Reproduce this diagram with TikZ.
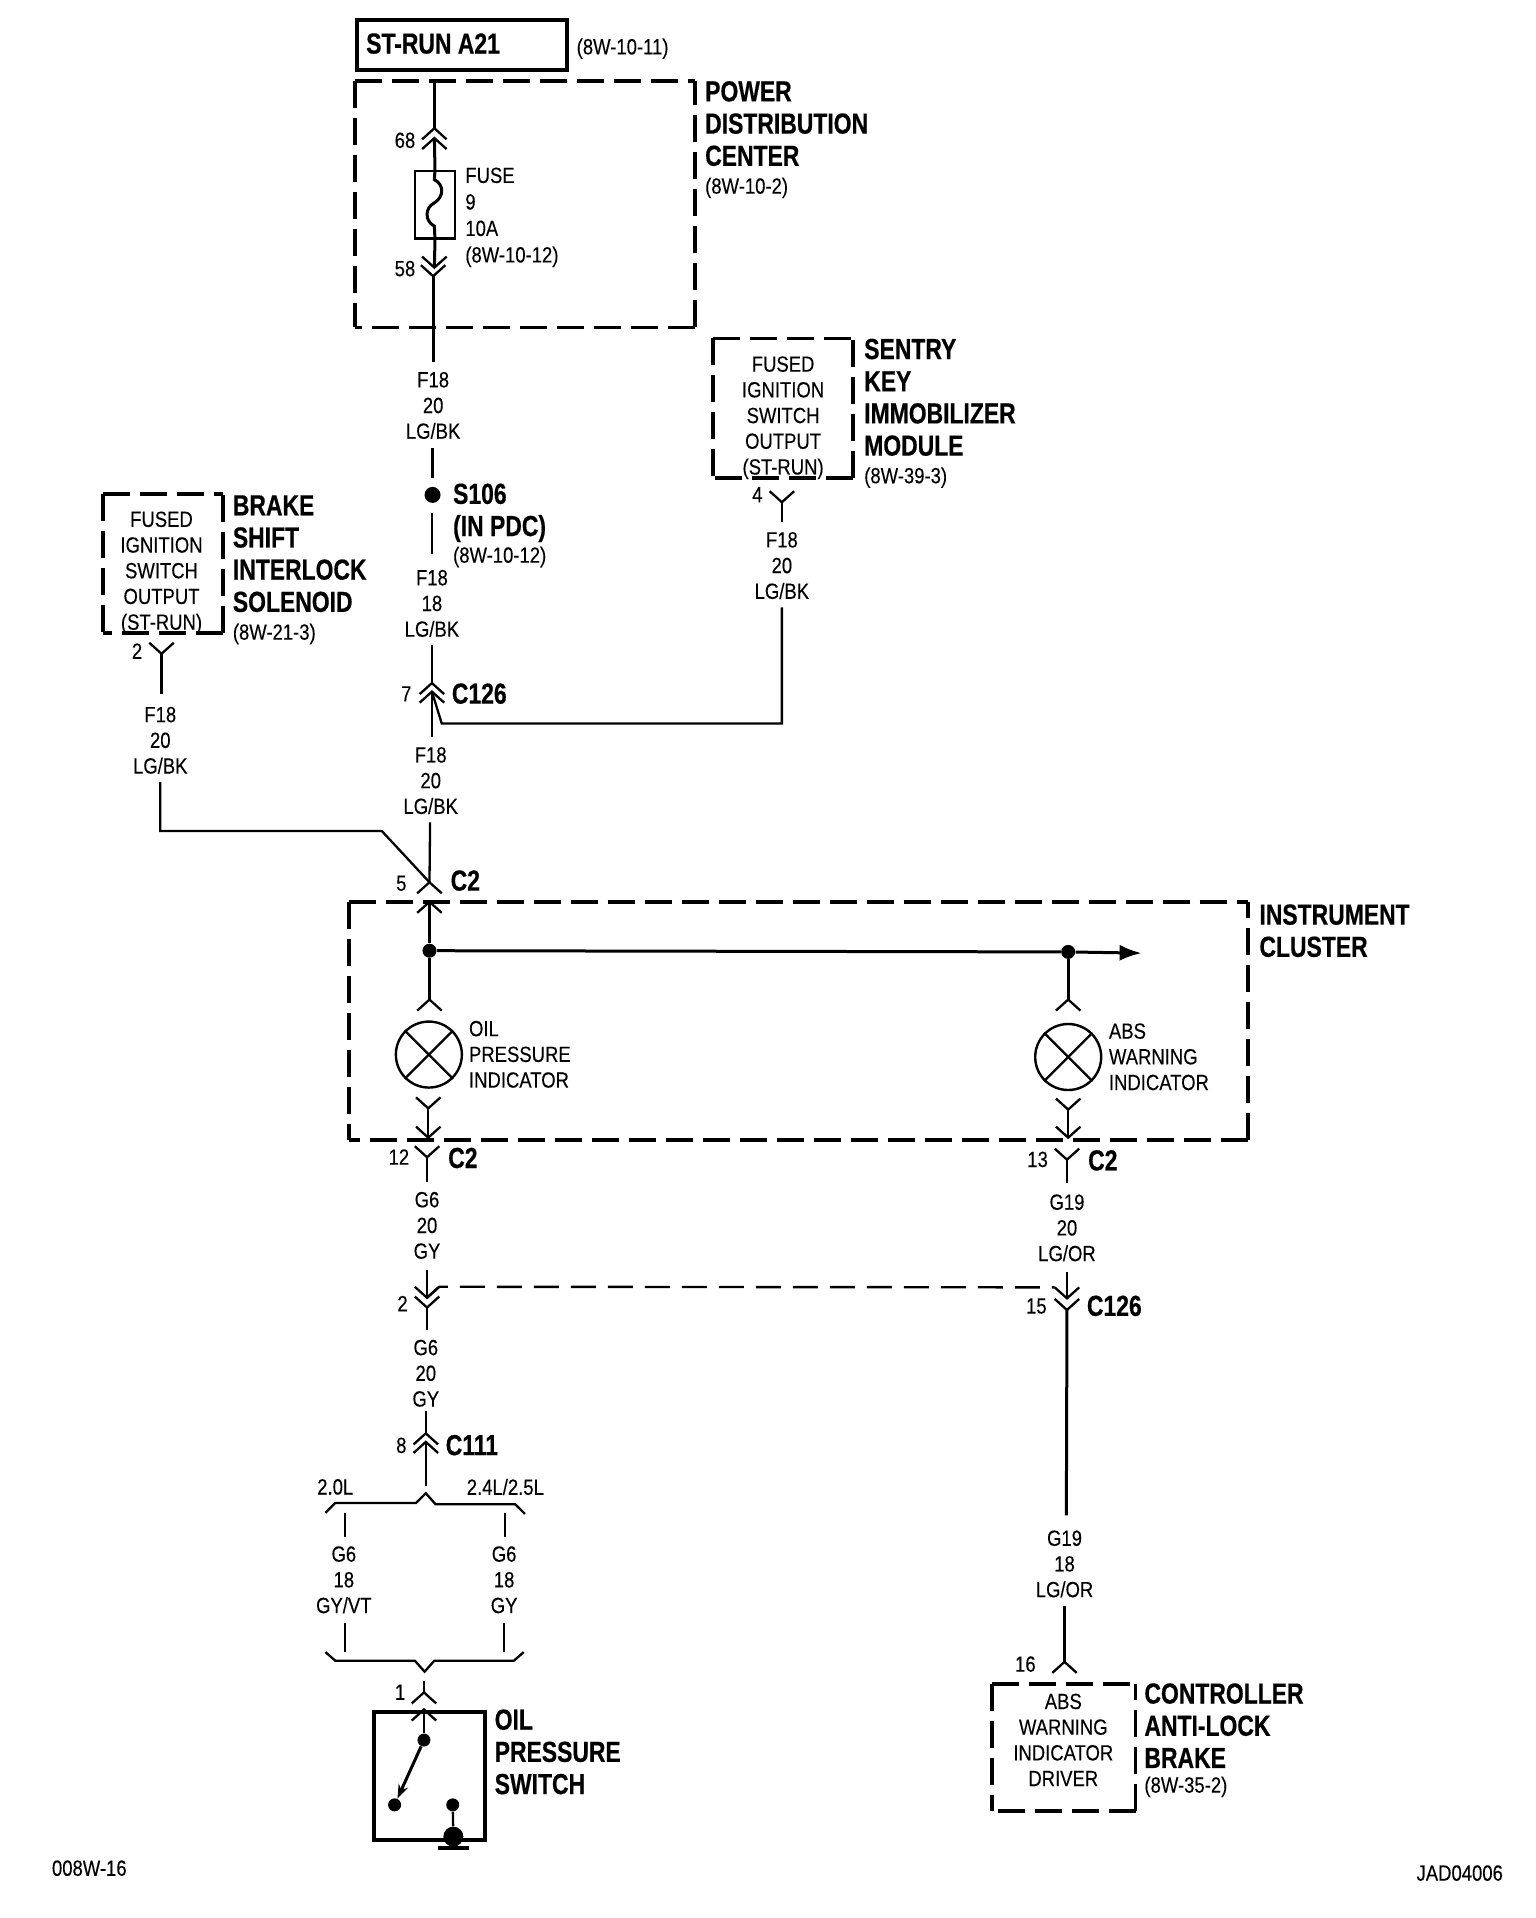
\documentclass[tikz,border=0pt]{standalone}
\usepackage{fontspec}
\setmainfont{Liberation Sans}[FakeStretch=0.84,FakeBold=0.2,BoldFeatures={FakeStretch=0.79,FakeBold=0.5}]
\usetikzlibrary{arrows.meta}
\tikzset{
  wire/.style={line width=1.15pt,line cap=butt},
  hwire/.style={line width=1.5pt},
  chev/.style={line width=1.15pt,line join=miter},
  dashbox/.style={line width=1.9pt,dash pattern=on 13.5pt off 5pt},
  dashwire/.style={line width=1.2pt,dash pattern=on 12.5pt off 6pt},
  sm/.style={inner sep=0pt,yshift=-0.5pt,font=\fontsize{11}{12.85}\selectfont},
  smc/.style={sm,align=center,anchor=center},
  sml/.style={sm,align=left,anchor=west},
  bd/.style={inner sep=0pt,yshift=-0.4pt,align=left,anchor=west,font=\fontsize{14.5}{16.1}\selectfont\bfseries},
  dotn/.style={circle,fill=black,inner sep=0pt,minimum size=#1},
  lampn/.style={circle,draw,line width=1.2pt,inner sep=0pt,minimum size=33pt},
  chevup/.pic={\draw[chev] (-10,9) -- (0,0) -- (10,9);},
  chevdn/.pic={\draw[chev] (-10,-9) -- (0,0) -- (10,-9);},
}
\newcommand{\dbox}[4]{%
  \draw[dashbox] (#1,#2) -- (#3,#2);
  \draw[dashbox] (#1,#2) -- (#1,#4);
  \draw[dashbox] (#3,#4) -- (#1,#4);
  \draw[dashbox] (#3,#4) -- (#3,#2);
}
\begin{document}
\begin{tikzpicture}[x=0.6118pt,y=-0.611pt]
\useasboundingbox (0,0) rectangle (1255.3,1569.6);
% ---- boxes
\node[draw,line width=2pt,anchor=north west,inner sep=0pt,minimum width=105pt,minimum height=25pt] (strun) at (290,15) {};
\node[bd] (struntext) at (299,35) {ST-RUN A21};
\node[sml] (refa) at (471,39) {(8W-10-11)};
\dbox{290}{66}{568}{268}
\dbox{583}{277}{697}{391}
\dbox{84}{404}{182}{518}
\dbox{285}{738}{1020}{933}
\dbox{811}{1378}{928}{1482}
% ---- box labels
\node[bd] (pdc) at (576,100.5) {POWER\\DISTRIBUTION\\CENTER};
\node[sml] (pdcref) at (576,153) {(8W-10-2)};
\node[bd] (skim) at (706,324.5) {SENTRY\\KEY\\IMMOBILIZER\\MODULE};
\node[sml] (skimref) at (706,390) {(8W-39-3)};
\node[smc] (skin) at (640,341) {FUSED\\IGNITION\\SWITCH\\OUTPUT\\(ST-RUN)};
\node[bd] (bsis) at (190,452.5) {BRAKE\\SHIFT\\INTERLOCK\\SOLENOID};
\node[sml] (bsisref) at (190,518) {(8W-21-3)};
\node[smc] (bsin) at (132,468) {FUSED\\IGNITION\\SWITCH\\OUTPUT\\(ST-RUN)};
\node[bd] (ic) at (1029,761) {INSTRUMENT\\CLUSTER};
\node[sml,font=\fontsize{11}{13.25}\selectfont] (fuset) at (380,177) {FUSE\\9\\10A\\(8W-10-12)};
\node[bd] (s106t) at (370,419) {S106\\(IN PDC)};
\node[sml] (s106r) at (370,455) {(8W-10-12)};
\node[sml] (oilt) at (383,862) {OIL\\PRESSURE\\INDICATOR};
\node[sml] (abst) at (906,864) {ABS\\WARNING\\INDICATOR};
\node[bd] (opst) at (404,1433) {OIL\\PRESSURE\\SWITCH};
\node[smc] (cabt) at (869,1423) {ABS\\WARNING\\INDICATOR\\DRIVER};
\node[bd] (cabl) at (935,1411.5) {CONTROLLER\\ANTI-LOCK\\BRAKE};
\node[sml] (cabr) at (935,1461.5) {(8W-35-2)};
% ---- connector names and pin numbers
\node[smc] (p68) at (331,114) {68};
\node[smc] (p58) at (331,219) {58};
\node[smc] (p4) at (619,404) {4};
\node[smc] (p2a) at (112,532) {2};
\node[smc] (p7) at (332,567) {7};
\node[bd] (c126a) at (369,567) {C126};
\node[smc] (p5) at (328,722) {5};
\node[bd] (c2a) at (368,720) {C2};
\node[smc] (p12) at (326,946) {12};
\node[bd] (c2b) at (366,947) {C2};
\node[smc] (p13) at (848,948) {13};
\node[bd] (c2c) at (889,949) {C2};
\node[smc] (p2b) at (329,1066) {2};
\node[smc] (p15) at (847,1068) {15};
\node[bd] (c126b) at (888,1068) {C126};
\node[smc] (p8) at (328,1182) {8};
\node[bd] (c111) at (364,1182) {C111};
\node[smc] (p1) at (327,1384) {1};
\node[smc] (p16) at (838,1361) {16};
% ---- wire labels
\node[smc] (w1) at (354,331) {F18\\20\\LG/BK};
\node[smc] (w2) at (353,493) {F18\\18\\LG/BK};
\node[smc] (w3) at (352,638) {F18\\20\\LG/BK};
\node[smc] (w4) at (639,462) {F18\\20\\LG/BK};
\node[smc] (w5) at (131,605) {F18\\20\\LG/BK};
\node[smc] (w6) at (349,1002) {G6\\20\\GY};
\node[smc] (w7) at (348,1123) {G6\\20\\GY};
\node[smc] (w8) at (872,1004) {G19\\20\\LG/OR};
\node[smc] (w9) at (870,1279) {G19\\18\\LG/OR};
\node[smc] (w10) at (281,1292) {G6\\18\\GY/VT};
\node[smc] (w11) at (412,1292) {G6\\18\\GY};
\node[smc] (v1) at (274,1216) {2.0L};
\node[smc] (v2) at (413,1216) {2.4L/2.5L};
\node[smc] (ca) at (73,1528) {008W-16};
\node[smc] (cb) at (1193,1532) {JAD04006};
% ---- points
\coordinate (t1) at (355,66);
\coordinate (c68a) at (355,105);
\coordinate (c68b) at (355,113);
\coordinate (c58a) at (355,219);
\coordinate (c58b) at (354,226);
\node[draw,line width=1.3pt,anchor=north,inner sep=0pt,minimum width=20pt,minimum height=33.6pt] (fuse) at (355.5,139) {};
\coordinate (fa) at (355,147); \coordinate (fb) at (355,166); \coordinate (fc) at (355,185);
\coordinate (e1) at (354,296);
\coordinate (e2) at (353.5,367);
\coordinate (e3) at (353.5,391);
\node[dotn=8pt] (s106) at (353.5,405) {};
\coordinate (e4) at (353,420);
\coordinate (e5) at (353,453);
\coordinate (e6) at (353,528);
\coordinate (c7a) at (353,559);
\coordinate (c7b) at (353,566);
\coordinate (e7) at (353,603);
\coordinate (b1) at (361,592);
\coordinate (b2) at (639,592);
\coordinate (e8) at (639,497);
\coordinate (c4) at (639,411);
\coordinate (e9) at (639,427);
\coordinate (c2l) at (132,535);
\coordinate (e10) at (132,568);
\coordinate (e11) at (131,640);
\coordinate (b3) at (131,680);
\coordinate (b4) at (312,680);
\coordinate (c5) at (351,722);
\coordinate (e12) at (351.5,673);
\coordinate (c5in) at (351,738);
\node[dotn=7pt] (j1) at (351,778) {};
\node[dotn=7pt] (j2) at (873,779) {};
\coordinate (arr) at (933,780);
\coordinate (c1u) at (351,818);
\coordinate (c2u) at (873,818);
\node[lampn] (lamp1) at (350.5,863) {};
\node[lampn] (lamp2) at (873,865) {};
\coordinate (y1) at (350,907);
\coordinate (y1b) at (350,931);
\coordinate (y2) at (349,947);
\coordinate (e13) at (349,967);
\coordinate (z1) at (873,908);
\coordinate (z1b) at (873,931);
\coordinate (z2) at (872,949);
\coordinate (e14) at (872,968);
\coordinate (e15) at (349,1039);
\coordinate (d1) at (349,1062);
\coordinate (d2) at (349,1070);
\coordinate (e16) at (349,1088);
\coordinate (da) at (359,1053);
\coordinate (db) at (862,1053.5);
\coordinate (e17) at (872,1041);
\coordinate (f1) at (872,1062.5);
\coordinate (f2) at (872,1072);
\coordinate (e18) at (871.5,1240);
\coordinate (e19) at (870,1314);
\coordinate (c16) at (870,1360);
\coordinate (g1) at (348,1173);
\coordinate (g2) at (348,1180);
\coordinate (g3) at (348,1216);
\coordinate (g4) at (348,1155);
\coordinate (h1) at (282,1238); \coordinate (h2) at (282,1258);
\coordinate (h3) at (413,1238); \coordinate (h4) at (413,1258);
\coordinate (h5) at (282,1328); \coordinate (h6) at (282,1352);
\coordinate (h7) at (412,1328); \coordinate (h8) at (412,1352);
\coordinate (k1) at (346.5,1376);
\coordinate (k2) at (346.5,1385);
% ---- wires
\draw[hwire] (t1) -- (c68a);
\draw[hwire] (c68b) -- (fuse.north) -- (fa) .. controls (363,151) and (363,161) .. (fb) .. controls (347,170) and (347,181) .. (fc) -- (fuse.south) -- (c58a);
\draw[hwire] (c58b) -- (e1);
\draw[wire] (e2) -- (e3);
\draw[wire] (e4) -- (e5);
\draw[wire] (e6) -- (c7a);
\draw[wire] (c7b) -- (e7);
\draw[wire] (c7b) -- (b1) -- (b2) -- (e8);
\draw[wire] (c4) -- (e9);
\draw[wire] (c2l) -- (e10);
\draw[wire] (e11) -- (b3) -- (b4) -- (c5);
\draw[wire] (e12) -- (c5);
\draw[hwire] (c5in) -- (j1) -- (c1u);
\draw[hwire] (j1) -- (j2);
\draw[hwire,-{Latex[length=11pt,width=8pt]}] (j2) -- (arr);
\draw[hwire] (j2) -- (c2u);
\draw[wire] (lamp1.45) -- (lamp1.225); \draw[wire] (lamp1.135) -- (lamp1.-45);
\draw[wire] (lamp2.45) -- (lamp2.225); \draw[wire] (lamp2.135) -- (lamp2.-45);
\draw[wire] (y1) -- (y1b);
\draw[wire] (y2) -- (e13);
\draw[wire] (z1) -- (z1b);
\draw[wire] (z2) -- (e14);
\draw[wire] (e15) -- (d1);
\draw[wire] (d2) -- (e16);
\draw[dashwire] (d1) -- (da) -- (db);
\draw[wire] (e17) -- (f1);
\draw[hwire] (f2) -- (e18);
\draw[wire] (e19) -- (c16);
\draw[wire] (g4) -- (g1);
\draw[wire] (g2) -- (g3);
\draw[wire] (h1) -- (h2); \draw[wire] (h3) -- (h4);
\draw[wire] (h5) -- (h6); \draw[wire] (h7) -- (h8);
\draw[wire] (k1) -- (k2);
% ---- brackets
\coordinate (br0) at (266,1238); \coordinate (br1) at (274,1230); \coordinate (br2) at (340,1230);
\coordinate (br3) at (348,1222); \coordinate (br4) at (356,1231); \coordinate (br5) at (421,1231); \coordinate (br6) at (429,1239);
\draw[wire] (br0) -- (br1) -- (br2) -- (br3) -- (br4) -- (br5) -- (br6);
\coordinate (bs0) at (266,1352); \coordinate (bs1) at (274,1359); \coordinate (bs2) at (339,1359);
\coordinate (bs3) at (347,1368); \coordinate (bs4) at (355,1359); \coordinate (bs5) at (420,1359); \coordinate (bs6) at (428,1352);
\draw[wire] (bs0) -- (bs1) -- (bs2) -- (bs3) -- (bs4) -- (bs5) -- (bs6);
% ---- chevrons
\pic at (c68a) {chevup}; \pic at (c68b) {chevup};
\pic at (c58a) {chevdn}; \pic at (c58b) {chevdn};
\pic at (c7a) {chevup}; \pic at (c7b) {chevup};
\pic at (c4) {chevdn}; \pic at (c2l) {chevdn};
\pic at (c5) {chevup}; \pic at (c5in) {chevup};
\pic at (c1u) {chevup}; \pic at (c2u) {chevup};
\pic at (y1) {chevdn}; \pic at (y1b) {chevdn}; \pic at (y2) {chevdn};
\pic at (z1) {chevdn}; \pic at (z1b) {chevdn}; \pic at (z2) {chevdn};
\pic at (d1) {chevdn}; \pic at (d2) {chevdn};
\pic at (f1) {chevdn}; \pic at (f2) {chevdn};
\pic at (c16) {chevup};
\pic at (g1) {chevup}; \pic at (g2) {chevup};
\pic at (k2) {chevup};
% ---- switch
\node[draw,line width=2pt,anchor=north west,inner sep=0pt,minimum width=55.7pt,minimum height=64pt] (sw) at (304,1399) {};
\coordinate (k3) at (346.5,1399);
\pic at (k3) {chevup};
\node[dotn=6.5pt] (sa) at (346.5,1424) {};
\node[dotn=6.5pt] (sb) at (322.5,1477) {};
\node[dotn=6.5pt] (sc) at (370,1477) {};
\node[dotn=10pt] (sd) at (370.5,1503) {};
\draw[wire] (k3) -- (sa);
\draw[hwire,-{Stealth[length=7pt,width=5pt]}] (sa) -- (sb);
\draw[wire] (sc) -- (sd);
\coordinate (gl) at (358,1512.5); \coordinate (gr) at (383,1512.5);
\draw[line width=2pt] (gl) -- (gr);
\end{tikzpicture}
\end{document}
